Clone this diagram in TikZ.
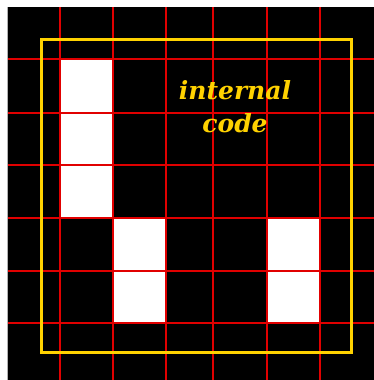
\documentclass[tikz,border=0pt]{standalone}
\usepackage{fontspec}
\newfontfamily\lblfont{DejaVu Serif}
\definecolor{gridred}{RGB}{225,0,0}
\definecolor{gold}{RGB}{255,210,0}
\tikzset{
  gridline/.style={draw=gridred, line width=2pt},
  cell/.style={fill=white, draw=gridred!60, line width=1pt, minimum width=53pt, minimum height=53pt, inner sep=0pt, anchor=north west},
  frame/.style={draw=gold, line width=3pt},
  lbl/.style={text=gold, font=\lblfont\bfseries\itshape\fontsize{25}{33}\selectfont, align=center}
}
\begin{document}
\begin{tikzpicture}[x=1pt,y=-1pt]
\useasboundingbox (0,0) rectangle (374,380);
\fill[white] (0,0) rectangle (374,380);
\fill[black] (8,7) rectangle (374,380);
\draw[gray!60, line width=1pt] (7.5,7) -- (7.5,380);
% white cells
\node[cell, minimum height=159pt] (c1) at (60,59) {};
\node[cell, minimum height=105pt] (c2) at (113,218) {};
\node[cell, minimum height=105pt] (c5) at (267,218) {};
% grid
\foreach \x in {60,113,166,213,267,320} \draw[gridline] (\x,7) -- (\x,380);
\foreach \y in {59,113,165,218,271,323} \draw[gridline] (8,\y) -- (374,\y);
% frame
\node[frame, minimum width=310pt, minimum height=313.5pt, inner sep=0pt, anchor=north west] (fr) at (39.5,37.5) {};
\node[lbl] (txt) at (235,107) {internal\\code};
\end{tikzpicture}
\end{document}
